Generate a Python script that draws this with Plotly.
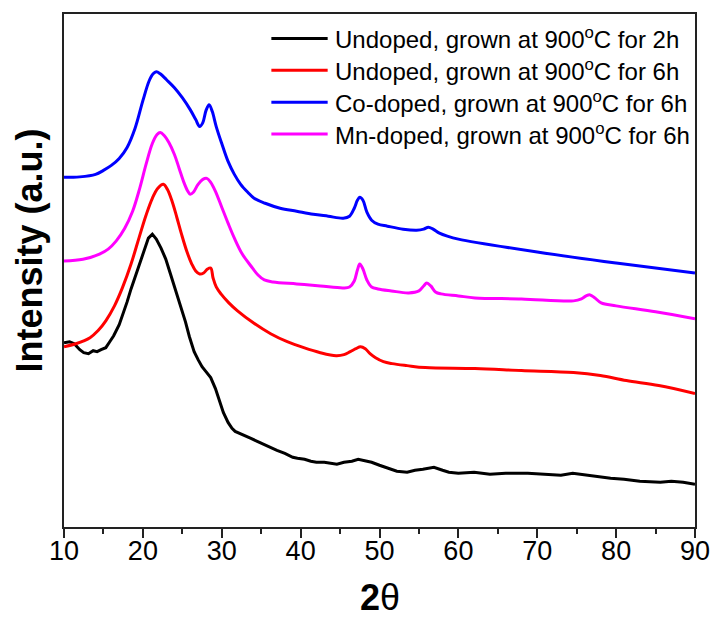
import plotly.graph_objects as go

# ---- data (2-theta, intensity in arbitrary units) ----
x_co = [10, 12, 14, 15, 16, 17, 18, 19, 20, 20.8,
        21.3, 21.7, 22.2, 23, 24, 25, 26, 26.7, 27.2, 27.6,
        28.0, 28.4, 28.8, 29.3, 30, 30.8, 31.6, 32.4, 33.3, 34.1,
        35.5, 37.4, 39.5, 41.6, 43.5, 45.4, 46.2, 46.8, 47.2, 47.5,
        47.9, 48.4, 49, 49.8, 51, 53, 54.7, 55.6, 56.2, 56.8,
        57.6, 58.6, 60, 70, 80, 90]
y_co = [351, 351.5, 354, 358, 363, 370, 381, 400, 428, 448,
        455, 457, 455, 449, 441, 431, 419, 409, 402, 406,
        418, 424, 417, 402, 385, 367, 354, 344, 336, 330,
        325, 320, 317, 314, 312, 310, 312, 320, 328, 331,
        328, 316, 308, 304, 302, 299, 298, 299, 301, 299,
        295, 292, 289, 276, 265, 255]

x_mn = [10, 12.4, 14.5, 15.6, 16.6, 17.7, 18.7, 19.6, 20.4, 21.2,
        21.8, 22.2, 22.7, 23.3, 24, 24.6, 25.2, 25.7, 26.0, 26.4,
        27.0, 27.6, 28.1, 28.6, 29.2, 30, 30.8, 31.6, 32.6, 33.7,
        34.6, 35.4, 36.5, 39.5, 42.5, 45.4, 46.2, 46.8, 47.2, 47.5,
        47.9, 48.4, 49, 49.8, 51.5, 53.7, 55.0, 55.6, 56.0, 56.5,
        57.1, 57.8, 60, 62.1, 68, 74.6, 75.6, 76.2, 76.7, 77.3,
        78.1, 80, 85, 90]
y_mn = [267, 268.7, 274, 279, 287, 300, 317, 340, 364, 385,
        394, 396, 393, 386, 374, 360, 346, 337, 334, 336,
        344, 349, 350, 346, 337, 321, 305, 290, 274, 262,
        253, 248, 246, 244, 242, 240, 241, 247, 258, 264,
        259, 248, 241, 239, 237, 235, 237, 242, 245, 242,
        236, 234, 232, 230, 229, 227, 229, 232, 233, 230,
        225, 222, 216, 209]

x_6h = [10, 11.5, 13.3, 14.3, 15.3, 16.4, 17.4, 18.5, 19.5, 20.4,
        21.2, 21.9, 22.6, 23.1, 23.7, 24.3, 24.9, 25.6, 26.2, 26.7,
        27.2, 27.7, 28.2, 28.6, 28.9, 29.3, 29.9, 30.9, 32.0, 34,
        36.2, 38.3, 40.4, 42.5, 44.5, 45.5, 46.3, 47.0, 47.6, 48.2,
        48.8, 49.5, 50.5, 51.6, 53.5, 55.8, 62.1, 68, 74.6, 78,
        81.3, 85.4, 90]
y_6h = [181, 184, 190, 197, 207, 222, 240, 264, 290, 313,
        330, 340, 344, 339, 327, 311, 294, 276, 264, 257,
        254, 255, 259, 260, 250, 241, 234, 225, 217, 205,
        194, 186, 180, 175, 172, 173, 176, 179, 181, 179,
        174, 170, 166, 164, 162, 160, 159, 157, 155, 152,
        147, 142, 134]

x_2h = [10, 10.7, 11.3, 12, 12.5, 13.1, 13.7, 14.2, 14.7, 15.3, 15.8, 16.3, 17, 17.5, 18, 18.5, 19,
        19.6, 20.2, 20.7, 21.2, 21.7, 22.3, 22.9, 23.5, 24.2, 24.8, 25.4, 25.9, 26.5, 27, 27.5, 28,
        28.6, 29.2, 29.7, 30.2, 30.8, 31.3, 31.7, 32.3, 33, 33.7, 34.5, 35.3, 36.3, 37, 38, 39, 39.6,
        40.5, 41.3, 42, 43, 43.8, 44.6, 45.5, 46.5, 47.3, 48, 49, 50, 51, 52.2, 53.5, 54.5, 55.5,
        56.9, 58, 58.8, 60, 62, 64, 66, 68.8, 71, 73, 74.5, 76.4, 78, 79.3, 81, 83, 85.6, 87, 88.5, 90]
y_2h = [185, 186, 184, 178, 175, 174, 177, 176, 178, 180, 186, 192, 203, 214, 226, 239, 251,
        264, 279, 290, 294, 289, 280, 269, 254, 237, 222, 206, 191, 176, 168, 161, 156,
        150, 139, 127, 115, 105, 99, 96, 94, 92, 89, 86, 83, 80, 77, 74, 70, 69,
        68, 66, 65, 65, 64, 63, 65, 66, 68, 67, 65, 62, 59, 56, 55, 57, 58,
        60, 57, 55, 54, 55, 53, 54, 54, 53, 52, 54, 52, 50, 49, 48, 46, 45, 46, 45, 43]

names = ["Undoped, grown at 900<sup>o</sup>C for 2h",
         "Undoped, grown at 900<sup>o</sup>C for 6h",
         "Co-doped, grown at 900<sup>o</sup>C for 6h",
         "Mn-doped, grown at 900<sup>o</sup>C for 6h"]
colors = ["#000000", "#ff0000", "#0000ff", "#ff00ff"]
xtick_vals = [10, 20, 30, 40, 50, 60, 70, 80, 90]

series = [(x_2h, y_2h, "linear"), (x_6h, y_6h, "spline"), (x_co, y_co, "spline"), (x_mn, y_mn, "spline")]

fig = go.Figure()
for (xs, ys, shape), nm, c in zip(series, names, colors):
    line = dict(color=c, width=3, shape=shape)
    if shape == "spline":
        line["smoothing"] = 1.0
    fig.add_trace(go.Scatter(x=xs, y=ys, mode="lines", name=nm, line=line, showlegend=False))

FONT = "Liberation Sans, Arial, sans-serif"

# manual legend (long line samples as in the reference)
W, H = 722 - 64 - 19, 617 - 12 - 90
row_px = [36.5, 68.5, 100.5, 132.5]
for nm, c, yp in zip(names, colors, row_px):
    yy = (527 - yp) / H
    fig.add_shape(type="line", xref="paper", yref="paper",
                  x0=(274 - 64) / W, x1=(331 - 64) / W, y0=yy, y1=yy,
                  line=dict(color=c, width=3))
    fig.add_annotation(xref="paper", yref="paper", x=(336 - 64) / W, y=yy,
                       xanchor="left", yanchor="middle", showarrow=False, text=nm,
                       font=dict(family=FONT, size=24, color="#000"))

# axis titles
fig.add_annotation(xref="paper", yref="paper", x=(29 - 64) / W, y=(527 - 249) / H,
                   xanchor="center", yanchor="middle", textangle=-90, showarrow=False,
                   text="<b>Intensity (a.u.)</b>", font=dict(family=FONT, size=36, color="#000"))
fig.add_annotation(xref="paper", yref="paper", x=0.5, y=(527 - 598) / H,
                   xanchor="center", yanchor="middle", showarrow=False,
                   text="<b>2</b>θ", font=dict(family=FONT, size=36, color="#000"))

fig.update_layout(
    width=722, height=617,
    margin=dict(l=64, r=19, t=12, b=90),
    paper_bgcolor="white", plot_bgcolor="white",
    showlegend=False,
    font=dict(family=FONT, color="#000"),
    xaxis=dict(range=[10, 90], tickvals=xtick_vals, ticks="outside", ticklen=9, tickwidth=2,
               tickcolor="#222", showline=True, linecolor="#222", linewidth=2, mirror=True,
               showgrid=False, zeroline=False, tickfont=dict(family=FONT, size=27, color="#000"),
               ticklabelstandoff=-10,
               minor=dict(dtick=5, tick0=10, ticks="outside", ticklen=5, tickwidth=2, tickcolor="#222",
                          showgrid=False)),
    yaxis=dict(range=[0, 515], showticklabels=False, ticks="", showline=True, linecolor="#222",
               linewidth=2, mirror=True, showgrid=False, zeroline=False),
)

fig.write_html("out.html")
